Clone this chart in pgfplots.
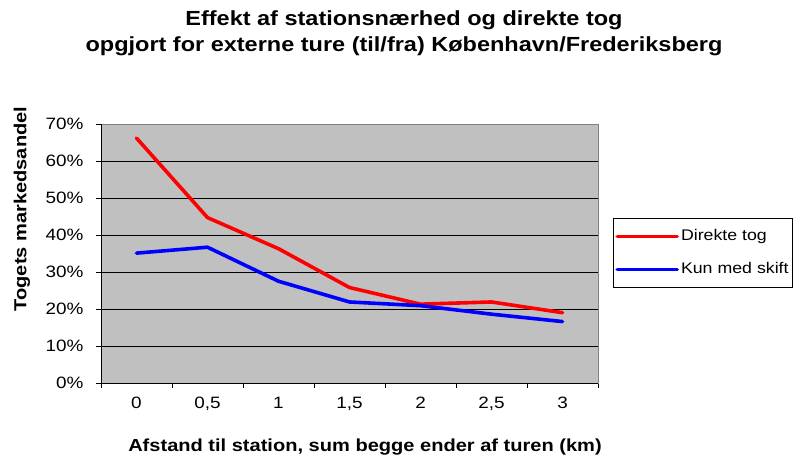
\documentclass[border=0pt]{standalone}
\usepackage{pgfplots}
\pgfplotsset{compat=1.18}
\usepackage{fontspec}
\setmainfont{Liberation Sans}[FakeStretch=1.15]
\definecolor{plotbg}{HTML}{C0C0C0}
\definecolor{framegray}{HTML}{808080}
\begin{document}
\begin{tikzpicture}[x=1bp,y=1bp]
\useasboundingbox (0,0) rectangle (799,459);
\node[font=\bfseries\fontsize{20.5}{26}\selectfont, align=center] at (404,426)
  {Effekt af stationsnærhed og direkte tog\\opgjort for externe ture (til/fra) København/Frederiksberg};
\node[font=\bfseries\fontsize{17.5}{20}\selectfont, rotate=90] at (22,250) {Togets markedsandel};
\node[font=\bfseries\fontsize{17.5}{20}\selectfont] at (365,12) {Afstand til station, sum begge ender af turen (km)};
\begin{axis}[
  at={(101bp,76bp)}, anchor=south west,
  scale only axis, width=497bp, height=259bp,
  xmin=-0.5, xmax=6.5, ymin=0, ymax=70,
  axis background/.style={fill=plotbg},
  axis line style={framegray, line width=0.8bp},
  xtick={0,...,6},
  xticklabels={0,{0,5},1,{1,5},2,{2,5},3},
  minor xtick={-0.5,0.5,...,6.5},
  ytick={0,10,...,70},
  yticklabels={0\%,10\%,20\%,30\%,40\%,50\%,60\%,70\%},
  tick pos=left, tick align=outside,
  major tick length=5bp, minor tick length=5bp,
  x tick style={draw=none},
  minor x tick style={draw=black, line width=0.8bp},
  y tick style={draw=black, line width=0.8bp},
  ymajorgrids, major grid style={black, line width=0.8bp},
  tick label style={font=\fontsize{16.5}{18}\selectfont},
  /pgf/number format/assume math mode=true,
  xticklabel style={yshift=-6bp},
  yticklabel style={xshift=-9bp},
  legend style={at={(1.0302,0.637)}, anchor=north west, draw=black, fill=white,
    font=\fontsize{15.5}{17}\selectfont, inner xsep=2bp, inner ysep=10bp, row sep=17bp,
    line width=0.8bp, nodes={inner xsep=2bp, inner ysep=0bp, text height=12bp, text depth=4bp}},
  legend cell align=left,
  legend image code/.code={\path (0,0) -- (15bp,0); \draw[#1, line width=3.6bp] (15bp,0) -- (60bp,0);},
  after end axis/.code={\draw[black, line width=0.8bp] (rel axis cs:0,1) -- (rel axis cs:0,0) -- (rel axis cs:1,0);},
]
\addplot[red, line width=3.6bp, line join=round, line cap=round] coordinates {(0,66.2) (1,44.7) (2,36.3) (3,25.8) (4,21.3) (5,21.9) (6,19.0)};
\addlegendentry{Direkte tog}
\addplot[blue, line width=3.6bp, line join=round, line cap=round] coordinates {(0,35.1) (1,36.7) (2,27.5) (3,21.9) (4,20.9) (5,18.6) (6,16.6)};
\addlegendentry{Kun med skift}
\end{axis}
\end{tikzpicture}
\end{document}
